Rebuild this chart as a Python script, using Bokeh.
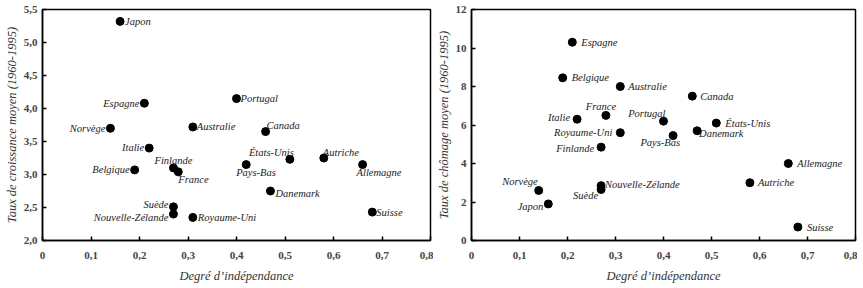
from bokeh.plotting import figure
from bokeh.models import ColumnDataSource, Range1d, FixedTicker, CustomJSTickFormatter
from bokeh.layouts import row
from bokeh.embed import file_html
from bokeh.resources import INLINE
from bokeh.core.properties import value

# ---------------- data ----------------
pays = ["Japon", "Espagne", "Norvège", "Italie", "Belgique", "Finlande", "France",
        "Suède", "Nouvelle-Zélande", "Royaume-Uni", "Australie", "Portugal", "Canada",
        "États-Unis", "Pays-Bas", "Autriche", "Allemagne", "Danemark", "Suisse"]
independance = [0.16, 0.21, 0.14, 0.22, 0.19, 0.27, 0.28,
                0.27, 0.27, 0.31, 0.31, 0.40, 0.46,
                0.51, 0.42, 0.58, 0.66, 0.47, 0.68]
croissance = [5.32, 4.08, 3.70, 3.40, 3.07, 3.10, 3.04,
              2.51, 2.40, 2.35, 3.72, 4.15, 3.65,
              3.23, 3.15, 3.25, 3.15, 2.75, 2.43]
chomage = [1.9, 10.3, 2.6, 6.3, 8.45, 4.85, 6.5,
           2.65, 2.85, 5.6, 8.0, 6.2, 7.5,
           6.1, 5.45, 3.0, 4.0, 5.7, 0.7]

x_ticks = [0, 0.1, 0.2, 0.3, 0.4, 0.5, 0.6, 0.7, 0.8]
y1_ticks = [2.0, 2.5, 3.0, 3.5, 4.0, 4.5, 5.0, 5.5]
y2_ticks = [0, 2, 4, 6, 8, 10, 12]

# label placement styles (dx, dy in screen px, align)
place1 = [(5, 0, "left"), (-5, 0, "right"), (-5, 0, "right"), (-5, -1, "right"),
          (-5, 0, "right"), (0, -7, "center"), (0, 8, "left"),
          (-5, -2, "right"), (-5, 3, "right"), (5, 0, "left"), (4, 0, "left"),
          (4, 0, "left"), (1, -6, "left"),
          (4, -7, "right"), (-10, 8, "left"), (-1, -6, "left"), (-6, 8, "left"),
          (5, 2, "left"), (4, 0, "left")]
place2 = [(-5, 3, "right"), (9, 0, "left"), (-1, -9, "right"), (-7, -2, "right"),
          (9, 0, "left"), (-7, 1, "right"), (-5, -9, "center"),
          (-3, 6, "right"), (4, -1, "left"), (-8, 0, "right"), (8, 0, "left"),
          (2, -8, "right"), (8, 0, "left"),
          (9, 0, "left"), (7, 7, "right"), (8, 0, "left"), (9, 0, "left"),
          (2, 3, "left"), (9, 0, "left")]

SERIF = "'Liberation Serif', 'Times New Roman', serif"


def make_fig(yvals, yrange, yticks, ylabel, places, width, bl, br, yfmt):
    p = figure(width=width, height=285, output_backend="svg", toolbar_location=None,
               x_range=Range1d(0, 0.8), y_range=Range1d(*yrange),
               min_border_left=bl, min_border_right=br, min_border_top=9,
               min_border_bottom=44)
    p.grid.visible = False
    p.outline_line_color = "black"
    p.outline_line_width = 1.5
    p.background_fill_color = "white"
    p.border_fill_color = "white"
    for ax in (p.xaxis[0], p.yaxis[0]):
        ax.axis_line_width = 1.5
        ax.major_tick_in = 4
        ax.major_tick_out = 0
        ax.minor_tick_line_color = None
        ax.major_tick_line_width = 1.5
        ax.major_label_text_font = SERIF
        ax.major_label_text_font_size = "11px"
        ax.major_label_text_font_style = "bold"
        ax.major_label_text_color = "#444444"
        ax.axis_label_text_font = SERIF
        ax.axis_label_text_font_size = "12.5px"
        ax.axis_label_text_font_style = "italic"
        ax.axis_label_text_color = "#333333"
    p.xaxis.ticker = FixedTicker(ticks=x_ticks)
    p.yaxis.ticker = FixedTicker(ticks=yticks)
    p.xaxis.formatter = CustomJSTickFormatter(
        code="return tick == 0 ? '0' : tick.toFixed(1).replace('.', ',');")
    p.yaxis.formatter = CustomJSTickFormatter(code=yfmt)
    p.xaxis.axis_label = "Degré d’indépendance"
    p.yaxis.axis_label = ylabel
    p.xaxis.major_label_standoff = 11
    p.xaxis.axis_label_standoff = 7
    p.yaxis.major_label_standoff = 5
    p.yaxis.axis_label_standoff = 2

    src = ColumnDataSource(dict(
        x=independance, y=yvals, name=pays,
        dx=[a[0] for a in places], dy=[a[1] for a in places],
        al=[a[2] for a in places]))
    p.scatter("x", "y", source=src, size=8, color="black")
    p.text("x", "y", text="name", source=src, x_offset="dx", y_offset="dy",
           text_align="al", text_baseline="middle", text_font=value(SERIF),
           text_font_style="italic", text_font_size="10.5px", text_color="#222222")
    return p


p1 = make_fig(croissance, (2.0, 5.5), y1_ticks, "Taux de croissance moyen (1960-1995)",
              place1, 433, 42, 3, "return tick.toFixed(1).replace('.', ',');")
p2 = make_fig(chomage, (0, 12), y2_ticks, "Taux de chômage moyen (1960-1995)",
              place2, 424, 32, 2, "return tick.toFixed(0);")

layout = row(p1, p2)
open("out.html", "w").write(file_html(layout, INLINE))
